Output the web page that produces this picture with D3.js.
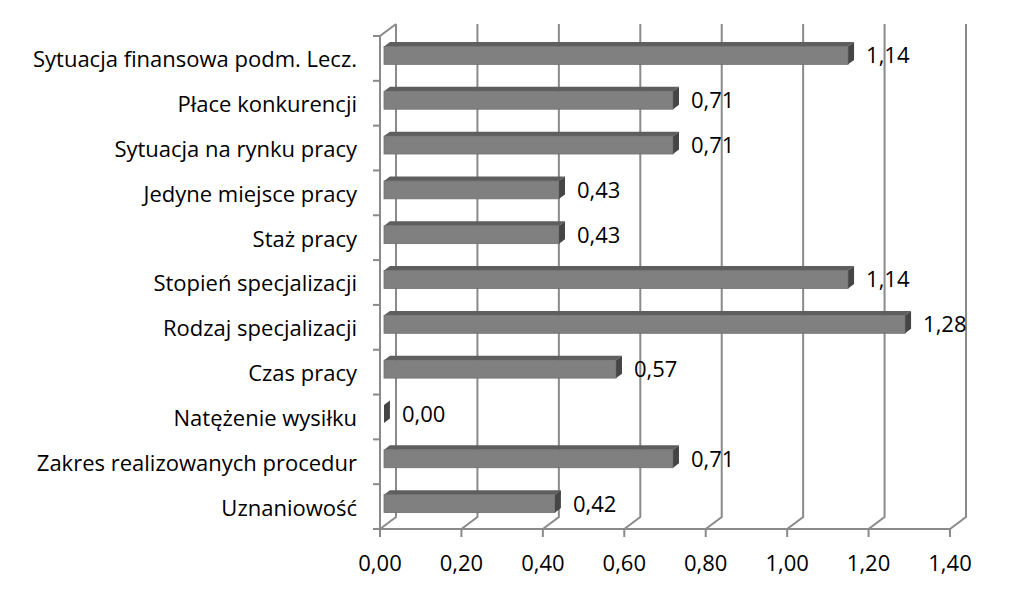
<!DOCTYPE html>
<html>
<head>
<meta charset="utf-8">
<script src="https://cdn.jsdelivr.net/npm/d3@7"></script>
<style>
  body { margin: 0; background: #fff; }
  text { font-family: "Open Sans", Lato, sans-serif; fill: #000; }
</style>
</head>
<body>
<div class="chart"></div>
<script>
// categories top to bottom, as in the picture
const categories = [
    'Sytuacja finansowa podm. Lecz.',
    'Płace konkurencji',
    'Sytuacja na rynku pracy',
    'Jedyne miejsce pracy',
    'Staż pracy',
    'Stopień specjalizacji',
    'Rodzaj specjalizacji',
    'Czas pracy',
    'Natężenie wysiłku',
    'Zakres realizowanych procedur',
    'Uznaniowość'
];
const values = [1.14, 0.71, 0.71, 0.43, 0.43, 1.14, 1.28, 0.57, 0.00, 0.71, 0.42];
const tickValues = [0, 0.2, 0.4, 0.6, 0.8, 1.0, 1.2, 1.4];

const width = 1024, height = 598;
const plot = {left: 380, right: 950, top: 36, bottom: 529};
// 3d depth of the wall (back minus front)
const depth = {dx: 16, dy: -12};
// bars sit between these fractions of the depth
const barFront = 0.25, barBack = 0.62;
const fontSize = 22;

const locale = d3.formatLocale({decimal: ',', thousands: ' ', grouping: [3], currency: ['', '']});
const fmt = locale.format('.2f');

const svg = d3.select('.chart').append('svg')
    .attr('width', width)
    .attr('height', height);

const x = d3.scaleLinear()
    .domain([0, 1.4])
    .range([plot.left, plot.right]);

const y = d3.scaleBand()
    .domain(categories)
    .range([plot.top, plot.bottom])
    .paddingInner(0.6)
    .paddingOuter(0.3);

const step = y.step();
const gridColor = '#8a8a8a';

// back wall gridlines + floor diagonals
const grid = svg.append('g');
tickValues.forEach(function(t) {
    const fx = x(t), bx = x(t) + depth.dx;
    grid.append('path')
        .attr('d', 'M' + bx + ',' + (plot.top + depth.dy) + 'L' + bx + ',' + (plot.bottom + depth.dy) + 'L' + fx + ',' + plot.bottom)
        .attr('fill', 'none')
        .attr('stroke', gridColor)
        .attr('stroke-width', 2);
    // tick below the front axis
    grid.append('line')
        .attr('x1', fx).attr('x2', fx)
        .attr('y1', plot.bottom).attr('y2', plot.bottom + 8)
        .attr('stroke', gridColor)
        .attr('stroke-width', 2);
});

// front axes
grid.append('path')
    .attr('d', 'M' + (x(0) + depth.dx) + ',' + (plot.top + depth.dy) + 'L' + x(0) + ',' + plot.top +
        'L' + x(0) + ',' + plot.bottom + 'L' + x(1.4) + ',' + plot.bottom)
    .attr('fill', 'none')
    .attr('stroke', gridColor)
    .attr('stroke-width', 2);

// category ticks on the left axis
d3.range(categories.length + 1).forEach(function(i) {
    const ty = plot.top + i * step;
    grid.append('line')
        .attr('x1', x(0) - 7).attr('x2', x(0))
        .attr('y1', ty).attr('y2', ty)
        .attr('stroke', gridColor)
        .attr('stroke-width', 2);
});

// bars
const fdx = depth.dx * barFront, fdy = depth.dy * barFront;
const bdx = depth.dx * barBack, bdy = depth.dy * barBack;
const bh = y.bandwidth();

const bars = svg.selectAll('.bar')
    .data(categories)
    .enter().append('g')
    .attr('class', 'bar');

// top face
bars.append('path')
    .attr('d', function(d, i) {
        const x0 = x(0) + fdx, x1 = x(values[i]) + fdx, yt = y(d) + fdy;
        return 'M' + x0 + ',' + yt + 'L' + x1 + ',' + yt +
            'L' + (x1 + bdx - fdx) + ',' + (yt + bdy - fdy) + 'L' + (x0 + bdx - fdx) + ',' + (yt + bdy - fdy) + 'Z';
    })
    .attr('fill', '#5e5e5e');

// front face
bars.append('rect')
    .attr('x', x(0) + fdx)
    .attr('y', function(d) { return y(d) + fdy; })
    .attr('width', function(d, i) { return x(values[i]) - x(0); })
    .attr('height', bh)
    .attr('fill', '#808080')
    .attr('stroke', '#6e6e6e')
    .attr('stroke-width', 0.8);

// side face
bars.append('path')
    .attr('d', function(d, i) {
        const x1 = x(values[i]) + fdx, yt = y(d) + fdy;
        return 'M' + x1 + ',' + yt + 'L' + (x1 + bdx - fdx) + ',' + (yt + bdy - fdy) +
            'L' + (x1 + bdx - fdx) + ',' + (yt + bh + bdy - fdy) + 'L' + x1 + ',' + (yt + bh) + 'Z';
    })
    .attr('fill', '#454545');

// value labels
bars.append('text')
    .attr('x', function(d, i) { return x(values[i]) + bdx + 12; })
    .attr('y', function(d) { return y(d) + fdy + bh / 2; })
    .attr('dy', '0.36em')
    .attr('font-size', fontSize)
    .text(function(d, i) { return fmt(values[i]); });

// category labels
svg.append('g').selectAll('text')
    .data(categories)
    .enter().append('text')
    .attr('x', 357)
    .attr('y', function(d) { return y(d) + bh / 2 + 1; })
    .attr('dy', '0.36em')
    .attr('text-anchor', 'end')
    .attr('font-size', fontSize)
    .text(function(d) { return d; });

// x tick labels
svg.append('g').selectAll('text')
    .data(tickValues)
    .enter().append('text')
    .attr('x', function(d) { return x(d); })
    .attr('y', 571)
    .attr('text-anchor', 'middle')
    .attr('font-size', fontSize)
    .text(function(d) { return fmt(d); });
</script>
</body>
</html>
